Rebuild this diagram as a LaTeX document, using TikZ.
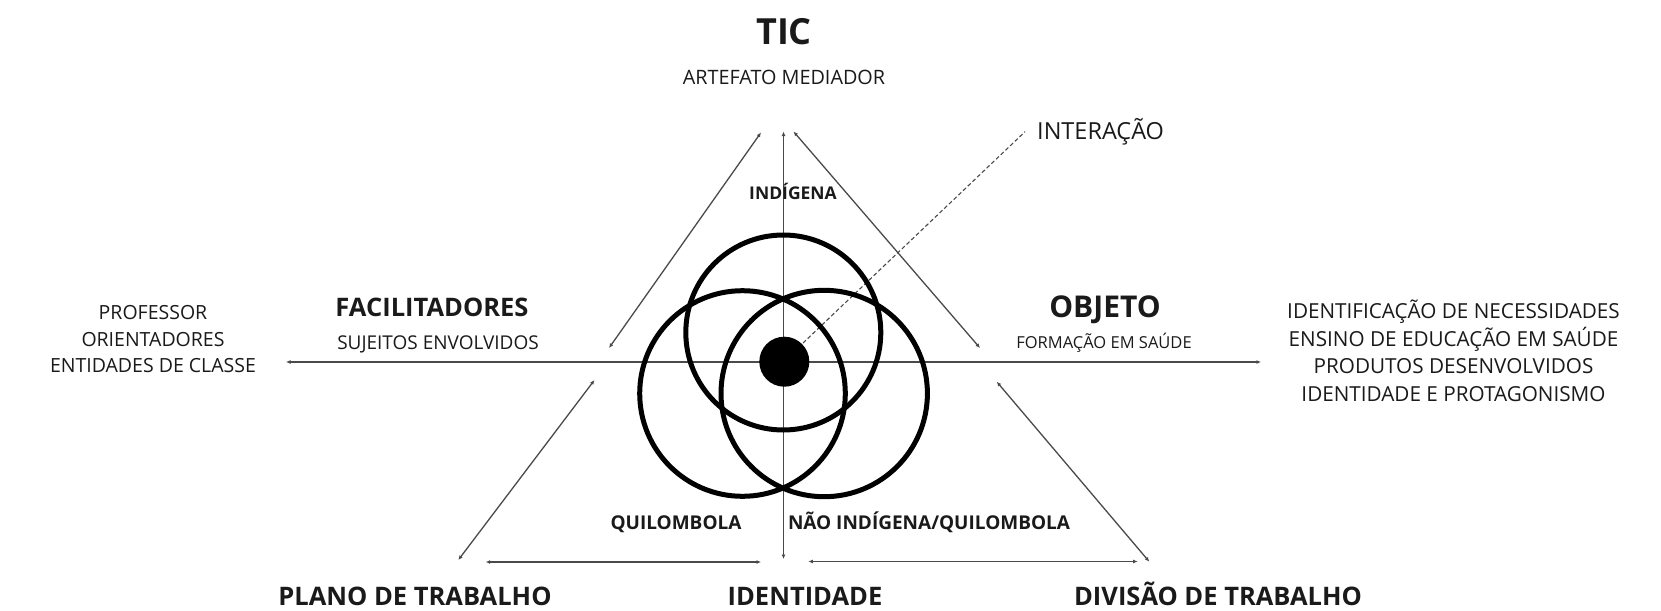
\documentclass[tikz,border=0pt]{standalone}
\usepackage{fontspec}
\setmainfont{Open Sans}
\usetikzlibrary{arrows.meta}
\definecolor{ink}{HTML}{1A1A1A}
\definecolor{wire}{HTML}{4A4A4A}
\begin{document}
\begin{tikzpicture}[x=1pt,y=-1pt,
  thinline/.style={draw=wire, line width=1.3pt,
    {Latex[length=4.5pt,width=4pt]}-{Latex[length=4.5pt,width=4pt]}},
  dashline/.style={draw=wire, line width=1.1pt, dash pattern=on 4pt off 2.5pt},
  ring/.style={draw=black, line width=5pt},
  txt/.style={inner sep=0pt, anchor=base, text=ink},
  fA/.style={font=\fontsize{36}{42}\selectfont\bfseries},
  fB/.style={font=\fontsize{25.5}{30}\selectfont\bfseries},
  fO/.style={font=\fontsize{30}{34}\selectfont\bfseries},
  fC/.style={font=\fontsize{17.5}{21}\selectfont\bfseries},
  fQ/.style={font=\fontsize{19}{23}\selectfont\bfseries},
  fS/.style={font=\fontsize{19}{23}\selectfont},
  fF/.style={font=\fontsize{16.5}{20}\selectfont},
  fM/.style={font=\fontsize{19.8}{24}\selectfont},
  fP/.style={font=\fontsize{19.5}{23}\selectfont},
  fL/.style={font=\fontsize{20.7}{25}\selectfont},
  fI/.style={font=\fontsize{23.5}{28}\selectfont}
]
\useasboundingbox (0,0) rectangle (1661,610);
\fill[white] (0,0) rectangle (1661,610);

% endpoints
\coordinate (hL) at (286,362);
\coordinate (hR) at (1261,362);
\coordinate (vT) at (783.5,131.5);
\coordinate (vB) at (783.5,559);
\coordinate (ulA) at (609,348);
\coordinate (ulB) at (761,132.5);
\coordinate (urA) at (980,348);
\coordinate (urB) at (793.5,131.5);
\coordinate (llA) at (594.5,380);
\coordinate (llB) at (458.3,560);
\coordinate (lrA) at (996.7,381.7);
\coordinate (lrB) at (1149.3,561.7);
\coordinate (bLA) at (485.7,562);
\coordinate (bLB) at (761,562);
\coordinate (bRA) at (808.3,561.5);
\coordinate (bRB) at (1137.7,561.5);
\coordinate (dA) at (803,343);
\coordinate (dB) at (1025,131.7);

\draw[thinline] (hL) -- (hR);
\draw[thinline] (vB) -- (vT);
\draw[thinline] (ulA) -- (ulB);
\draw[thinline] (urA) -- (urB);
\draw[thinline] (llA) -- (llB);
\draw[thinline] (lrA) -- (lrB);
\draw[thinline] (bLA) -- (bLB);
\draw[thinline] (bRA) -- (bRB);
\draw[dashline] (dA) -- (dB);

% circles
\draw[ring] (783.3,332.5) circle[radius=97.5];
\draw[ring] (742.5,393.5) circle[radius=102.8];
\draw[ring] (824.2,393.5) circle[radius=103.2];
\fill[black] (784.3,361.7) circle[radius=25];

% texts
\node[txt,fA] (tic) at (784,44.8) {TIC};
\node[txt,fM] (art) at (784,84) {ARTEFATO MEDIADOR};
\node[txt,fI,anchor=base west] (int) at (1037,139.4) {INTERAÇÃO};
\node[txt,fC] (ind) at (793,199.2) {INDÍGENA};
\node[txt,fB] (fac) at (432,316.1) {FACILITADORES};
\node[txt,fS] (suj) at (438,349.8) {SUJEITOS ENVOLVIDOS};
\node[txt,fP] (p1) at (153,319.5) {PROFESSOR};
\node[txt,fP] (p2) at (153,346) {ORIENTADORES};
\node[txt,fP] (p3) at (153,372.5) {ENTIDADES DE CLASSE};
\node[txt,fO] (obj) at (1105,317.7) {OBJETO};
\node[txt,fF] (for) at (1104,348.9) {FORMAÇÃO EM SAÚDE};
\node[txt,fL] (r1) at (1453.5,318.4) {IDENTIFICAÇÃO DE NECESSIDADES};
\node[txt,fL] (r2) at (1453.5,346.1) {ENSINO DE EDUCAÇÃO EM SAÚDE};
\node[txt,fL] (r3) at (1453.5,373.8) {PRODUTOS DESENVOLVIDOS};
\node[txt,fL] (r4) at (1453.5,401.5) {IDENTIDADE E PROTAGONISMO};
\node[txt,fQ] (qui) at (676,529.8) {QUILOMBOLA};
\node[txt,fQ] (nao) at (929,529.8) {NÃO INDÍGENA/QUILOMBOLA};
\node[txt,fB] (pla) at (415,605.1) {PLANO DE TRABALHO};
\node[txt,fB] (ide) at (805,605.1) {IDENTIDADE};
\node[txt,fB] (div) at (1218,605.1) {DIVISÃO DE TRABALHO};
\end{tikzpicture}
\end{document}
